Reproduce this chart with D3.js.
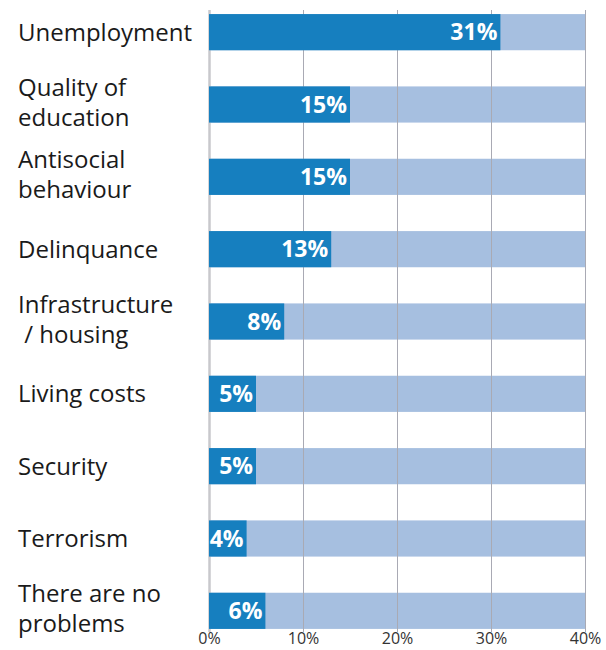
<!DOCTYPE html>
<html>
<head>
<meta charset="utf-8">
<script src="https://cdn.jsdelivr.net/npm/d3@7"></script>
<style>
  html, body { margin: 0; padding: 0; background: #fff; }
  svg { display: block; }
</style>
</head>
<body>
<svg id="chart" width="606" height="650"></svg>
<script>
// Share of respondents naming each issue as the main problem
const categories = [
  ["Unemployment"],
  ["Quality of", "education"],
  ["Antisocial", "behaviour"],
  ["Delinquance"],
  ["Infrastructure", " / housing"],
  ["Living costs"],
  ["Security"],
  ["Terrorism"],
  ["There are no", "problems"]
];
const values = [31, 15, 15, 13, 8, 5, 5, 4, 6];
const maxValue = 40;
const tickValues = [0, 10, 20, 30, 40];
const tickLabels = ["0%", "10%", "20%", "30%", "40%"];

const svg = d3.select("#chart");
const fontFamily = "'Open Sans', 'Noto Sans', sans-serif";

const x = d3.scaleLinear().domain([0, maxValue]).range([209, 585]);
const y = d3.scaleBand()
  .domain(d3.range(values.length))
  .range([-4, 647])
  .paddingInner(0.5)
  .paddingOuter(0.25);

const gridTop = 10, gridBottom = 632;

// background track bars (full scale)
svg.append("g").selectAll("rect")
  .data(values)
  .join("rect")
  .attr("x", x(0))
  .attr("y", (d, i) => y(i))
  .attr("width", x(maxValue) - x(0))
  .attr("height", y.bandwidth())
  .attr("fill", "#a6bfe0");

// vertical gridlines and percentage ticks
const axis = d3.axisBottom(x)
  .tickValues(tickValues)
  .tickFormat((d, i) => tickLabels[i])
  .tickSize(-(gridBottom - gridTop))
  .tickPadding(0);

const gAxis = svg.append("g")
  .attr("transform", `translate(0,${gridBottom})`)
  .call(axis);
gAxis.select(".domain").remove();
gAxis.selectAll(".tick line")
  .attr("stroke", "#a9aab4")
  .attr("stroke-width", 1);
gAxis.selectAll(".tick")
  .filter(d => d === 0)
  .select("line")
  .attr("stroke", "#c8c8cc")
  .attr("stroke-width", 2.5);
gAxis.selectAll(".tick text")
  .attr("fill", "#333")
  .attr("font-family", fontFamily)
  .attr("font-size", 16)
  .attr("y", 12)
  .attr("dy", 0);

// value bars
svg.append("g").selectAll("rect")
  .data(values)
  .join("rect")
  .attr("x", x(0))
  .attr("y", (d, i) => y(i))
  .attr("width", d => x(d) - x(0))
  .attr("height", y.bandwidth())
  .attr("fill", "#167fbf");

// value labels inside bar ends
svg.append("g").selectAll("text")
  .data(values)
  .join("text")
  .attr("x", d => x(d) - 3)
  .attr("y", (d, i) => y(i) + y.bandwidth() / 2)
  .attr("dy", "0.36em")
  .attr("text-anchor", "end")
  .attr("fill", "#fff")
  .attr("font-family", fontFamily)
  .attr("font-weight", "bold")
  .attr("font-size", 23)
  .text(d => d + "%");

// category labels
const lineH = 30;
const labels = svg.append("g").selectAll("text")
  .data(categories)
  .join("text")
  .attr("font-family", fontFamily)
  .attr("font-size", 24)
  .attr("fill", "#1a1a1a")
  .attr("xml:space", "preserve")
  .style("white-space", "pre")
  .attr("y", (d, i) => y(i) + y.bandwidth() / 2 - (d.length - 1) * (lineH / 2 + 2));

labels.selectAll("tspan")
  .data(d => d)
  .join("tspan")
  .attr("x", 18)
  .attr("dy", (d, j) => j === 0 ? "0.36em" : lineH)
  .text(d => d);
</script>
</body>
</html>
